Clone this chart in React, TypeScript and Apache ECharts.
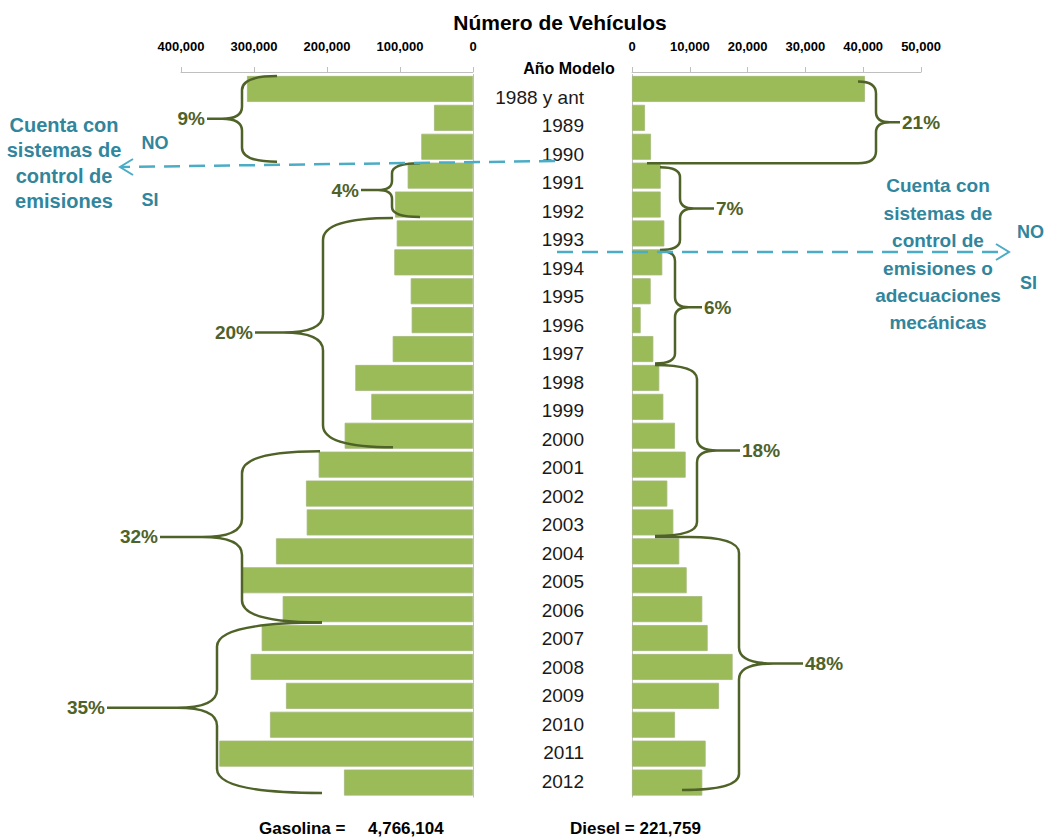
import React, { useEffect, useRef } from "react";
import * as echarts from "echarts";

const years = [
  "1988 y ant", "1989", "1990", "1991", "1992", "1993", "1994", "1995", "1996",
  "1997", "1998", "1999", "2000", "2001", "2002", "2003", "2004", "2005", "2006",
  "2007", "2008", "2009", "2010", "2011", "2012",
];
const gasolina = [
  309600, 53400, 70800, 89500, 106800, 104500, 107800, 85300, 84000, 110000,
  161200, 139300, 175800, 211400, 228800, 227800, 269900, 315500, 260700,
  289500, 304500, 256200, 278100, 347500, 176700,
];
const diesel = [
  40300, 2250, 3290, 4960, 4960, 5590, 5240, 3230, 1500, 3690, 4720, 5420, 7440,
  9280, 6110, 7150, 8180, 9460, 12160, 13090, 17410, 15050, 7440, 12740, 12160,
];
const gasolinaGroups = [
  { from: 0, to: 3, label: "9%" },
  { from: 3, to: 5, label: "4%" },
  { from: 5, to: 13, label: "20%" },
  { from: 13, to: 19, label: "32%" },
  { from: 19, to: 25, label: "35%" },
];
const dieselGroups = [
  { from: 0, to: 3, label: "21%" },
  { from: 3, to: 6, label: "7%" },
  { from: 6, to: 10, label: "6%" },
  { from: 10, to: 16, label: "18%" },
  { from: 16, to: 25, label: "48%" },
];
const title = "Número de Vehículos";
const categoryTitle = "Año Modelo";
const gasolinaTotalLabel = "Gasolina =";
const gasolinaTotal = "4,766,104";
const dieselTotalLabel = "Diesel = 221,759";
const leftNote = "Cuenta con\nsistemas de\ncontrol de\nemisiones";
const rightNote = "Cuenta con\nsistemas de\ncontrol de\nemisiones o\nadecuaciones\nmecánicas";

// ---- layout (pixel geometry of annotations) ----
const leftBraceLayout = [
  { xEndTop: 277, xEndBot: 277, xV: 242, xTip: 207, hkTop: 35, hkBot: 35, r: 14, rt: 12, tc: 20, dyTop: 1.5, dyBot: 0.5 },
  { xEndTop: 420, xEndBot: 420, xV: 392, xTip: 361, hkTop: 28, hkBot: 28, r: 10, rt: 9, tc: 14, dyTop: 2, dyBot: -2 },
  { xEndTop: 393, xEndBot: 393, xV: 323, xTip: 255, hkTop: 70, hkBot: 70, r: 22, rt: 18, tc: 40, dyTop: -1, dyBot: -3 },
  { xEndTop: 320, xEndBot: 322, xV: 242, xTip: 160, hkTop: 78, hkBot: 80, r: 22, rt: 18, tc: 40, dyTop: 1, dyBot: -1 },
  { xEndTop: 322, xEndBot: 322, xV: 217, xTip: 107, hkTop: 105, hkBot: 105, r: 24, rt: 18, tc: 40, dyTop: -1, dyBot: -4 },
];
const rightBraceLayout = [
  { xEndTop: 858, xEndBot: 647, xV: 876, xTip: 900, hkTop: 18, hkBot: 18, r: 12, rt: 10, tc: 14, dyTop: 7, dyBot: 2 },
  { xEndTop: 660, xEndBot: 660, xV: 680, xTip: 714, hkTop: 20, hkBot: 20, r: 10, rt: 10, tc: 14, dyTop: 6, dyBot: 2 },
  { xEndTop: 660, xEndBot: 655, xV: 675, xTip: 702, hkTop: 15, hkBot: 20, r: 10, rt: 10, tc: 14, dyTop: 3, dyBot: 0 },
  { xEndTop: 655, xEndBot: 655, xV: 697, xTip: 740, hkTop: 42, hkBot: 42, r: 14, rt: 12, tc: 20, dyTop: 1.5, dyBot: -1 },
  { xEndTop: 655, xEndBot: 682, xV: 739, xTip: 803, hkTop: 50, hkBot: 57, r: 16, rt: 16, tc: 35, dyTop: 0, dyBot: -7 },
];

const BAR = "#9bbb59";
const BRACE = "#4f6228";
const BLUE_LINE = "#4bacc6";
const BLUE_TEXT = "#31859c";
const AXIS_GREY = "#bfbfbf";
const SANS = '"Liberation Sans", Arial, sans-serif';

function bracePath(dir: number, yTop: number, yBot: number, L: any) {
  const { xEndTop, xEndBot, xV, xTip, hkTop, hkBot, r, rt, tc } = L;
  const yMid = (yTop + yBot) / 2;
  const sT = Math.sign(xEndTop - xV);
  const sB = Math.sign(xEndBot - xV);
  const hT = Math.min(hkTop, Math.abs(xEndTop - xV));
  const hB = Math.min(hkBot, Math.abs(xEndBot - xV));
  const xt = xV + dir * Math.min(tc, Math.abs(xTip - xV));
  return [
    `M${xEndTop} ${yTop}`,
    `L${xV + sT * hT} ${yTop}`,
    `Q${xV} ${yTop} ${xV} ${yTop + r}`,
    `L${xV} ${yMid - rt}`,
    `Q${xV} ${yMid} ${xt} ${yMid}`,
    `L${xTip} ${yMid}`,
    `M${xt} ${yMid}`,
    `Q${xV} ${yMid} ${xV} ${yMid + rt}`,
    `L${xV} ${yBot - r}`,
    `Q${xV} ${yBot} ${xV + sB * hB} ${yBot}`,
    `L${xEndBot} ${yBot}`,
  ].join(" ");
}

function txt(text: string, x: number, y: number, font: string, fill: string, align = "center", extra: any = {}) {
  return {
    type: "text",
    x,
    y,
    z: 100,
    silent: true,
    style: { text, font, fill, align, verticalAlign: "middle", textAlign: align, textVerticalAlign: "middle", ...extra },
  };
}

export default function App() {
  const ref = useRef<HTMLDivElement>(null);
  useEffect(() => {
    if (!ref.current) return;
    const chart = echarts.init(ref.current, null, { renderer: "svg" });
    const fmt = (v: number) => v.toLocaleString("en-US");
    const axisLabel = { fontFamily: SANS, fontWeight: "bold", fontSize: 13, color: "#000", margin: 19, formatter: fmt };
    const gridTop = 74.5;
    const gridH = 722.5;
    chart.setOption({
      animation: false,
      backgroundColor: "#ffffff",
      grid: [
        { left: 181, top: gridTop, width: 292, height: gridH },
        { left: 632, top: gridTop, width: 289, height: gridH },
        { left: 590, top: 82.75, width: 10, height: 712.5 },
      ],
      xAxis: [
        {
          gridIndex: 0, type: "value", min: 0, max: 400000, interval: 100000, inverse: true, position: "top", offset: 2.5,
          axisLine: { show: true, lineStyle: { color: AXIS_GREY, width: 1 } },
          axisTick: { show: true, length: 5, lineStyle: { color: AXIS_GREY } },
          splitLine: { show: false }, axisLabel,
        },
        {
          gridIndex: 1, type: "value", min: 0, max: 50000, interval: 10000, position: "top", offset: 2.5,
          axisLine: { show: true, lineStyle: { color: AXIS_GREY, width: 1 } },
          axisTick: { show: true, length: 5, lineStyle: { color: AXIS_GREY } },
          splitLine: { show: false }, axisLabel,
        },
        { gridIndex: 2, type: "value", min: 0, max: 1, show: false },
      ],
      yAxis: [
        {
          gridIndex: 0, type: "category", data: years, inverse: true, position: "right",
          axisLine: { show: true, lineStyle: { color: AXIS_GREY } }, axisTick: { show: false }, axisLabel: { show: false },
        },
        {
          gridIndex: 1, type: "category", data: years, inverse: true, position: "left",
          axisLine: { show: true, lineStyle: { color: AXIS_GREY } }, axisTick: { show: false }, axisLabel: { show: false },
        },
        {
          gridIndex: 2, type: "category", data: years, inverse: true, position: "left",
          axisLine: { show: false }, axisTick: { show: false },
          axisLabel: { show: true, fontFamily: SANS, fontSize: 19, color: "#1a1a1a", margin: 6, align: "right" },
        },
      ],
      series: [
        {
          type: "bar", xAxisIndex: 0, yAxisIndex: 0, data: gasolina, barCategoryGap: "10%",
          itemStyle: { color: BAR, borderColor: "#a3b878", borderWidth: 0.8 },
        },
        {
          type: "bar", xAxisIndex: 1, yAxisIndex: 1, data: diesel, barCategoryGap: "10%",
          itemStyle: { color: BAR, borderColor: "#a3b878", borderWidth: 0.8 },
        },
      ],
    });

    // category band boundaries from the axis scale
    const boundary = (axisIdx: number, i: number) => {
      const c0 = chart.convertToPixel({ yAxisIndex: axisIdx } as any, years[0]) as number;
      const c1 = chart.convertToPixel({ yAxisIndex: axisIdx } as any, years[1]) as number;
      const band = c1 - c0;
      return c0 - band / 2 + i * band;
    };

    const elements: any[] = [];
    const pctFont = `bold 19px ${SANS}`;
    gasolinaGroups.forEach((g, k) => {
      const L = leftBraceLayout[k];
      const yTop = boundary(0, g.from) + L.dyTop;
      const yBot = boundary(0, g.to) + L.dyBot;
      const name = `braceL${k}`;
      echarts.graphic.registerShape(name, echarts.graphic.extendPath(bracePath(-1, yTop, yBot, L), {}) as any);
      elements.push({ type: name, x: 0, y: 0, z: 100, silent: true, style: { stroke: BRACE, fill: "none", lineWidth: 2.5 } });
      elements.push(txt(g.label, L.xTip - 2, (yTop + yBot) / 2, pctFont, BRACE, "right"));
    });
    dieselGroups.forEach((g, k) => {
      const L = rightBraceLayout[k];
      const yTop = boundary(1, g.from) + L.dyTop;
      const yBot = boundary(1, g.to) + L.dyBot;
      const name = `braceR${k}`;
      echarts.graphic.registerShape(name, echarts.graphic.extendPath(bracePath(1, yTop, yBot, L), {}) as any);
      elements.push({ type: name, x: 0, y: 0, z: 100, silent: true, style: { stroke: BRACE, fill: "none", lineWidth: 2.5 } });
      elements.push(txt(g.label, L.xTip + 2, (yTop + yBot) / 2, pctFont, BRACE, "left"));
    });

    // dashed separators with arrows
    elements.push({
      type: "line", z: 101, silent: true,
      shape: { x1: 555, y1: 161, x2: 121, y2: 167 },
      style: { stroke: BLUE_LINE, lineWidth: 2.5, lineDash: [16, 9] },
    });
    elements.push({
      type: "polyline", z: 101, silent: true,
      shape: { points: [[133, 159], [120, 167], [133, 175]] },
      style: { stroke: BLUE_LINE, lineWidth: 2, fill: "none" },
    });
    elements.push({
      type: "line", z: 101, silent: true,
      shape: { x1: 557, y1: 252, x2: 1008, y2: 252 },
      style: { stroke: BLUE_LINE, lineWidth: 2.5, lineDash: [16, 9] },
    });
    elements.push({
      type: "polyline", z: 101, silent: true,
      shape: { points: [[996, 244], [1009, 252], [996, 260]] },
      style: { stroke: BLUE_LINE, lineWidth: 2, fill: "none" },
    });

    // texts
    elements.push({
      type: "text", x: 64, y: 112.5, z: 100, silent: true,
      style: { text: leftNote, font: `bold 20px ${SANS}`, fill: BLUE_TEXT, align: "center", verticalAlign: "top", textAlign: "center", textVerticalAlign: "top", lineHeight: 25.3 },
    });
    elements.push({
      type: "text", x: 938, y: 172.3, z: 100, silent: true,
      style: { text: rightNote, font: `bold 19px ${SANS}`, fill: BLUE_TEXT, align: "center", verticalAlign: "top", textAlign: "center", textVerticalAlign: "top", lineHeight: 27.4 },
    });
    const noSiFont = `bold 18px ${SANS}`;
    elements.push(txt("NO", 155, 143, noSiFont, BLUE_TEXT));
    elements.push(txt("SI", 150, 200, noSiFont, BLUE_TEXT));
    elements.push(txt("NO", 1017, 232, noSiFont, BLUE_TEXT, "left"));
    elements.push(txt("SI", 1020, 283, noSiFont, BLUE_TEXT, "left"));

    elements.push(txt(title, 560, 22, `bold 21px ${SANS}`, "#000"));
    elements.push(txt(categoryTitle, 569, 68, `bold 16px ${SANS}`, "#000"));
    const totFont = `bold 17px ${SANS}`;
    elements.push(txt(gasolinaTotalLabel, 259, 828, totFont, "#000", "left"));
    elements.push(txt(gasolinaTotal, 368, 828, totFont, "#000", "left"));
    elements.push(txt(dieselTotalLabel, 570, 828, totFont, "#000", "left"));

    chart.setOption({ graphic: { elements } });
    return () => chart.dispose();
  }, []);
  return <div ref={ref} style={{ position: "fixed", left: 0, top: 0, width: 1044, height: 838, background: "#fff" }} />;
}
